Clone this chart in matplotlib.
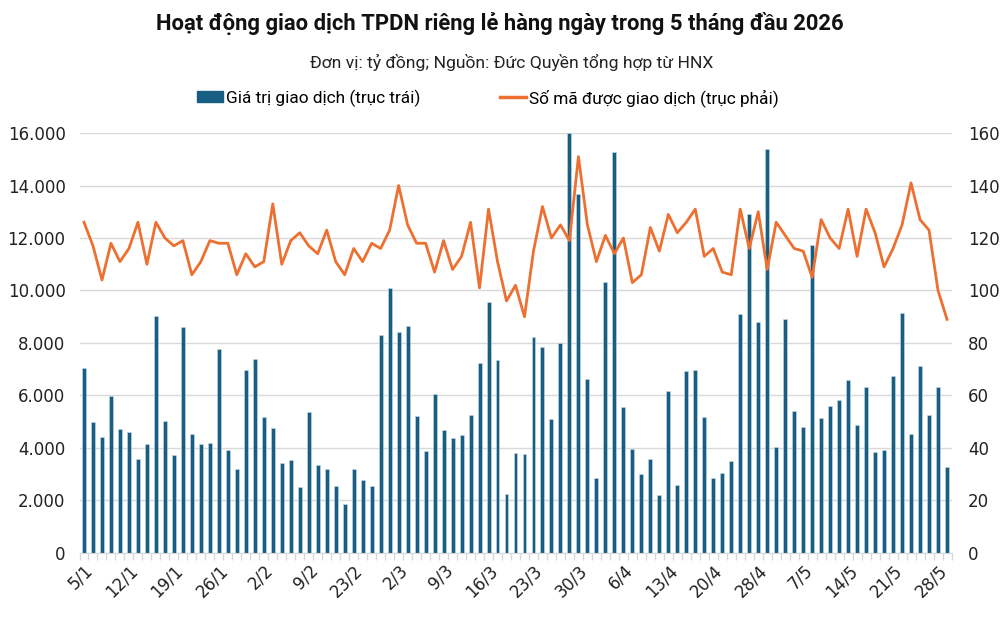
import matplotlib
matplotlib.use("Agg")
import matplotlib.pyplot as plt
from matplotlib.ticker import FuncFormatter, FixedLocator
from matplotlib.patches import Patch
from matplotlib.lines import Line2D

# trading days per month (Jan-May 2026, Tet break in Feb, 27/4 and 30/4-1/5 off)
days_jan = [5, 6, 7, 8, 9, 12, 13, 14, 15, 16, 19, 20, 21, 22, 23, 26, 27, 28, 29, 30]
days_feb = [2, 3, 4, 5, 6, 9, 10, 11, 12, 13, 23, 24, 25, 26, 27]
days_mar = [2, 3, 4, 5, 6, 9, 10, 11, 12, 13, 16, 17, 18, 19, 20, 23, 24, 25, 26, 27, 30, 31]
days_apr = [1, 2, 3, 6, 7, 8, 9, 10, 13, 14, 15, 16, 17, 20, 21, 22, 23, 24, 28, 29]
days_may = [4, 5, 6, 7, 8, 11, 12, 13, 14, 15, 18, 19, 20, 21, 22, 25, 26, 27, 28, 29]

# transaction value, billion VND (left axis)
value = [
    7050, 4980, 4400, 5970, 4720, 4610, 3590, 4170, 9040, 5020,
    3750, 8620, 4550, 4170, 4200, 7770, 3910, 3200, 6960, 7400,
    5190, 4760, 3430, 3530, 2500, 5360, 3350, 3200, 2540, 1870,
    3200, 2780, 2540, 8320, 10100, 8430, 8650, 5230, 3890, 6070,
    4700, 4380, 4480, 5270, 7240, 9560, 7350, 2260, 3820, 3770,
    8230, 7830, 5120, 8010, 16000, 13690, 6630, 2860, 10310, 15290,
    5570, 3970, 3000, 3590, 2220, 6170, 2600, 6920, 6980, 5190,
    2860, 3030, 3490, 9100, 12910, 8800, 15390, 4050, 8910, 5400,
    4800, 11720, 5160, 5610, 5820, 6600, 4880, 6320, 3850, 3910,
    6740, 9140, 4550, 7120, 5260, 6320, 3280,
]

# number of bond codes traded (right axis)
codes = [
    126, 117, 104, 118, 111, 116, 126, 110, 126, 120,
    117, 119, 106, 111, 119, 118, 118, 106, 114, 109,
    111, 133, 110, 119, 122, 117, 114, 123, 111, 106,
    116, 111, 118, 116, 123, 140, 125, 118, 118, 107,
    119, 108, 113, 126, 101, 131, 111, 96, 102, 90,
    115, 132, 120, 125, 119, 151, 125, 111, 121, 114,
    120, 103, 106, 124, 115, 129, 122, 126, 131, 113,
    116, 107, 106, 131, 116, 130, 108, 126, 121, 116,
    115, 105, 127, 120, 116, 131, 113, 131, 122, 109,
    116, 125, 141, 127, 123, 100, 89,
]

dates = ([f"{d}/1" for d in days_jan] + [f"{d}/2" for d in days_feb]
         + [f"{d}/3" for d in days_mar] + [f"{d}/4" for d in days_apr]
         + [f"{d}/5" for d in days_may])

bar_color = "#175e82"
line_color = "#ed7031"
grid_color = "#d9d9d9"

plt.rcParams["font.family"] = ["DejaVu Sans"]

fig = plt.figure(figsize=(10, 6.23), dpi=100)
ax = fig.add_axes([0.0795, 0.1124, 0.872, 0.6741])
ax2 = ax.twinx()

x = list(range(len(dates)))
ax.bar(x, value, width=0.44, color=bar_color, edgecolor="#c9dbe6", linewidth=0.4, zorder=2)
ax2.plot(x, codes, color=line_color, linewidth=2.0, zorder=3)

ax.set_xlim(-0.5, len(dates) - 0.5)
ax.set_ylim(0, 16000)
ax2.set_ylim(0, 160)
ax.set_yticks(range(0, 16001, 2000))
ax2.set_yticks(range(0, 161, 20))
ax.yaxis.set_major_formatter(FuncFormatter(lambda v, p: f"{int(v):,}".replace(",", ".")))

ax.grid(axis="y", color=grid_color, linewidth=1.0, zorder=0)
ax.set_axisbelow(True)

for a in (ax, ax2):
    for s in a.spines.values():
        s.set_visible(False)
ax.spines["bottom"].set_visible(True)
ax.spines["bottom"].set_color(grid_color)

ax.tick_params(axis="y", length=0, labelsize=12, pad=10, labelcolor="#222222")
ax2.tick_params(axis="y", length=0, labelsize=12, pad=12, labelcolor="#222222")

tick_idx = x[::5]
ax.set_xticks(tick_idx)
ax.set_xticklabels([dates[i] for i in tick_idx], rotation=45, ha="right",
                   rotation_mode="anchor", fontsize=12, color="#222222")
ax.tick_params(axis="x", which="major", length=0, pad=6)
ax.xaxis.set_minor_locator(FixedLocator([i - 0.5 for i in range(len(dates) + 1)]))
ax.tick_params(axis="x", which="minor", length=5, color=grid_color, width=1)

fig.text(0.5, 0.962, "Hoạt động giao dịch TPDN riêng lẻ hàng ngày trong 5 tháng đầu 2026",
         ha="center", va="center", fontsize=15.8, fontweight="bold", family="Roboto", color="#111111")
fig.text(0.512, 0.900, "Đơn vị: tỷ đồng; Nguồn: Đức Quyền tổng hợp từ HNX",
         ha="center", va="center", fontsize=12.6, family="Roboto", color="#222222")

handles = [Patch(facecolor=bar_color, edgecolor=bar_color),
           Line2D([0], [0], color=line_color, linewidth=2.5)]
fig.legend(handles, ["Giá trị giao dịch (trục trái)", "Số mã được giao dịch (trục phải)"],
           loc="center", bbox_to_anchor=(0.488, 0.843), ncol=2, frameon=False,
           handlelength=1.5, handleheight=0.6, handletextpad=0.2, columnspacing=4.6,
           prop={"family": "Roboto", "size": 12.4})

fig.savefig("out.png", dpi=100)
